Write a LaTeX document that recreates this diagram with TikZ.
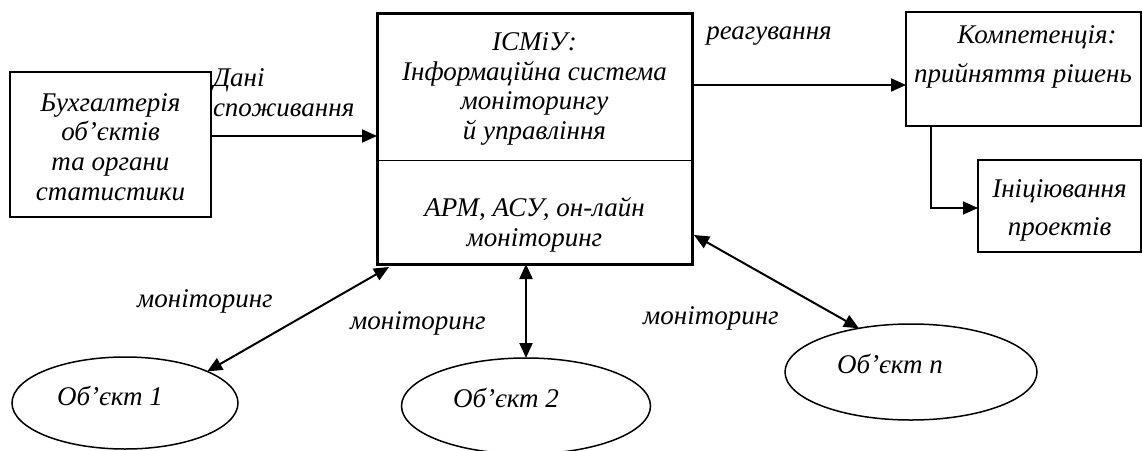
\documentclass[tikz,border=0pt]{standalone}
\usepackage{fontspec}
\setmainfont{Liberation Serif}
\usetikzlibrary{arrows.meta,shapes.geometric,calc}
\begin{document}
\begin{tikzpicture}[x=1pt,y=-1pt,
  every node/.style={font=\fontsize{27}{29.7}\selectfont\itshape, inner sep=0pt, outer sep=0pt},
  box/.style={draw, line width=1.5pt, rectangle},
  mainbox/.style={draw, line width=3pt, rectangle},
  obj/.style={draw, line width=1.5pt, ellipse},
  txt/.style={align=center},
  arr/.style={line width=2pt, -{Triangle[length=15pt,width=13pt]}},
  darr/.style={line width=2pt, {Triangle[length=15pt,width=13pt]}-{Triangle[length=15pt,width=13pt]}}
]
\useasboundingbox (0,0) rectangle (1142,450);

% boxes
\node[box, minimum width=201pt, minimum height=145pt] (buh) at (110.5,144.5) {};
\node[txt] (buht) at (110.5,147) {Бухгалтерія\\об’єктів\\та органи\\статистики};

\node[mainbox, minimum width=315pt, minimum height=251pt] (main) at (534.5,138.5) {};
\node[txt] (maint) at (534.5,89) {ІСМіУ:\\Інформаційна система\\моніторингу\\й управління};
\draw[line width=1pt] ([yshift=104pt]main.south west) -- ([yshift=104pt]main.south east);
\node[txt] (mainb) at (534.5,225) {АРМ, АСУ, он-лайн\\моніторинг};

\node[box, minimum width=235pt, minimum height=114pt] (komp) at (1023.5,69) {};
\node (kt1) at (1037,37) {Компетенція:};
\node (kt2) at (1023,76) {прийняття рішень};

\node[box, minimum width=163pt, minimum height=92pt] (init) at (1059.5,206) {};
\node[txt, font=\fontsize{27}{38}\selectfont\itshape] (initt) at (1059.5,210) {Ініціювання\\проектів};

% objects
\node[obj, minimum width=226pt, minimum height=92pt] (o1) at (125,403) {};
\node (o1t) at (110,396) {Об’єкт 1};
\node[obj, minimum width=249pt, minimum height=96pt] (o2) at (526,406) {};
\node (o2t) at (506,398) {Об’єкт 2};
\node[obj, minimum width=252pt, minimum height=96pt] (on) at (911,372) {};
\node (ont) at (890,364) {Об’єкт n};

% labels
\node[align=left, anchor=west] (dani) at (213,93) {Дані\\споживання};
\node (reag) at (769,36) {реагування};
\node (mon1) at (205,301) {моніторинг};
\node (mon2) at (418,323) {моніторинг};
\node (mon3) at (711,318) {моніторинг};

% connectors
\coordinate (a1) at ([yshift=8.5pt]buh.east);
\draw[arr] (a1) -- (a1 -| main.west);
\coordinate (r1) at ([yshift=-16pt]komp.west);
\draw[arr] (r1 -| main.east) -- (r1);
\coordinate (k1) at ([xshift=25pt]komp.south west);
\draw[line width=1.5pt, -{Triangle[length=15pt,width=13pt]}] (k1) |- ([yshift=-2pt]init.west);
\coordinate (m1) at ([xshift=12pt,yshift=-3pt]main.south west);
\draw[darr] (o1.21) -- (m1);
\draw[darr] (o2.north) -- (o2.north |- main.south);
\coordinate (m3) at ([xshift=2pt,yshift=-96.5pt]main.east);
\draw[darr] (on.140.8) -- (m3);
\end{tikzpicture}
\end{document}
